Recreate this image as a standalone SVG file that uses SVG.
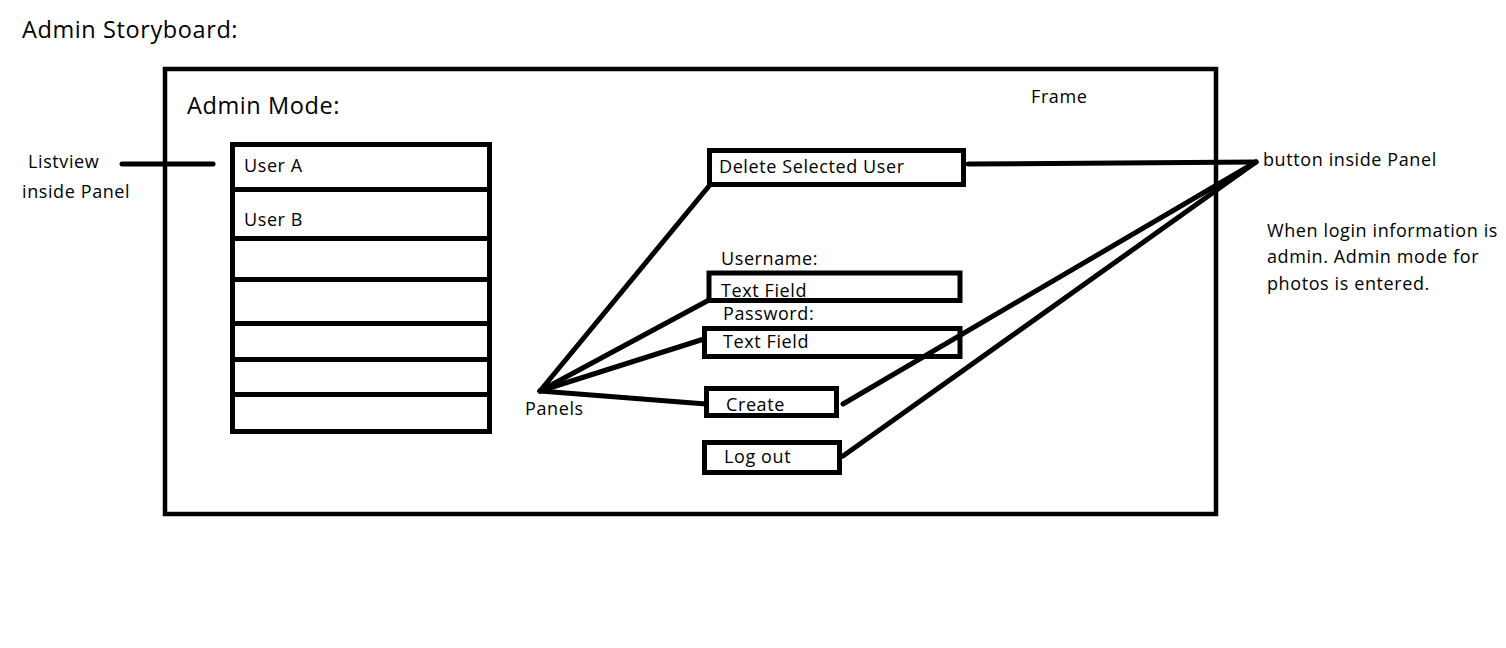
<svg xmlns="http://www.w3.org/2000/svg" width="1506" height="648" viewBox="0 0 1506 648">
  <style>
    text { font-family: "Open Sans", "Liberation Sans", sans-serif; fill: #000; }
    .h { font-size: 23.5px; letter-spacing: 0.6px; }
    .t { font-size: 18px; letter-spacing: 0.6px; }
    .box { fill: #fff; stroke: #000; stroke-width: 5; }
    .ln { stroke: #000; stroke-width: 5; stroke-linecap: round; fill: none; }
    .row { stroke: #000; stroke-width: 5; fill: none; }
  </style>
  <rect width="1506" height="648" fill="#fff"/>

  <text class="h" x="22" y="38">Admin Storyboard:</text>

  <g id="frame">
    <rect x="165" y="69" width="1051" height="445" fill="none" stroke="#000" stroke-width="4.5"/>
    <text class="h" x="187" y="114">Admin Mode:</text>
    <text class="t" x="1031" y="103">Frame</text>
  </g>

  <g id="listview">
    <rect class="box" x="232.5" y="144.5" width="257" height="287"/>
    <line class="row" x1="232.5" y1="189.5" x2="489.5" y2="189.5"/>
    <line class="row" x1="232.5" y1="238.5" x2="489.5" y2="238.5"/>
    <line class="row" x1="230" y1="279.5" x2="489.5" y2="279.5"/>
    <line class="row" x1="232.5" y1="323.5" x2="489.5" y2="323.5"/>
    <line class="row" x1="232.5" y1="359.5" x2="492" y2="359.5"/>
    <line class="row" x1="232.5" y1="394.5" x2="492" y2="394.5"/>
    <text class="t" x="244" y="172">User A</text>
    <text class="t" x="244" y="226">User B</text>
  </g>

  <g id="listview-label">
    <text class="t" x="28" y="168">Listview</text>
    <text class="t" x="22" y="198">inside Panel</text>
  </g>

  <g id="delete-btn">
    <rect class="box" x="709.5" y="150.5" width="254" height="34"/>
    <text class="t" x="719" y="173">Delete Selected User</text>
  </g>

  <g id="username">
    <text class="t" x="721" y="265">Username:</text>
    <rect class="box" x="709" y="273" width="251" height="27.5"/>
    <text class="t" x="721" y="297">Text Field</text>
  </g>

  <g id="password">
    <text class="t" x="723" y="320">Password:</text>
    <rect class="box" x="704.5" y="328.5" width="255.5" height="28"/>
    <text class="t" x="723" y="348">Text Field</text>
  </g>

  <g id="create-btn">
    <rect class="box" x="706.5" y="388.5" width="130" height="27"/>
    <text class="t" x="726" y="411">Create</text>
  </g>

  <g id="logout-btn">
    <rect class="box" x="704.5" y="442.5" width="135" height="30"/>
    <text class="t" x="724" y="463">Log out</text>
  </g>

  <g id="panels-label">
    <text class="t" x="525" y="415">Panels</text>
  </g>

  <g id="button-label">
    <text class="t" x="1263" y="166">button inside Panel</text>
  </g>

  <g id="note">
    <text class="t" x="1267" y="237">When login information is</text>
    <text class="t" x="1267" y="263">admin. Admin mode for</text>
    <text class="t" x="1267" y="290">photos is entered.</text>
  </g>

  <g id="connectors">
    <line class="ln" x1="122" y1="164" x2="213" y2="164"/>
    <line class="ln" x1="540" y1="391" x2="709" y2="186"/>
    <line class="ln" x1="540" y1="391" x2="709" y2="300"/>
    <line class="ln" x1="540" y1="391" x2="704" y2="339"/>
    <line class="ln" x1="540" y1="391" x2="706" y2="404"/>
    <line class="ln" x1="968" y1="164" x2="1256" y2="162"/>
    <line class="ln" x1="843" y1="404" x2="1256" y2="162"/>
    <line class="ln" x1="843" y1="456" x2="1256" y2="162"/>
  </g>
</svg>
